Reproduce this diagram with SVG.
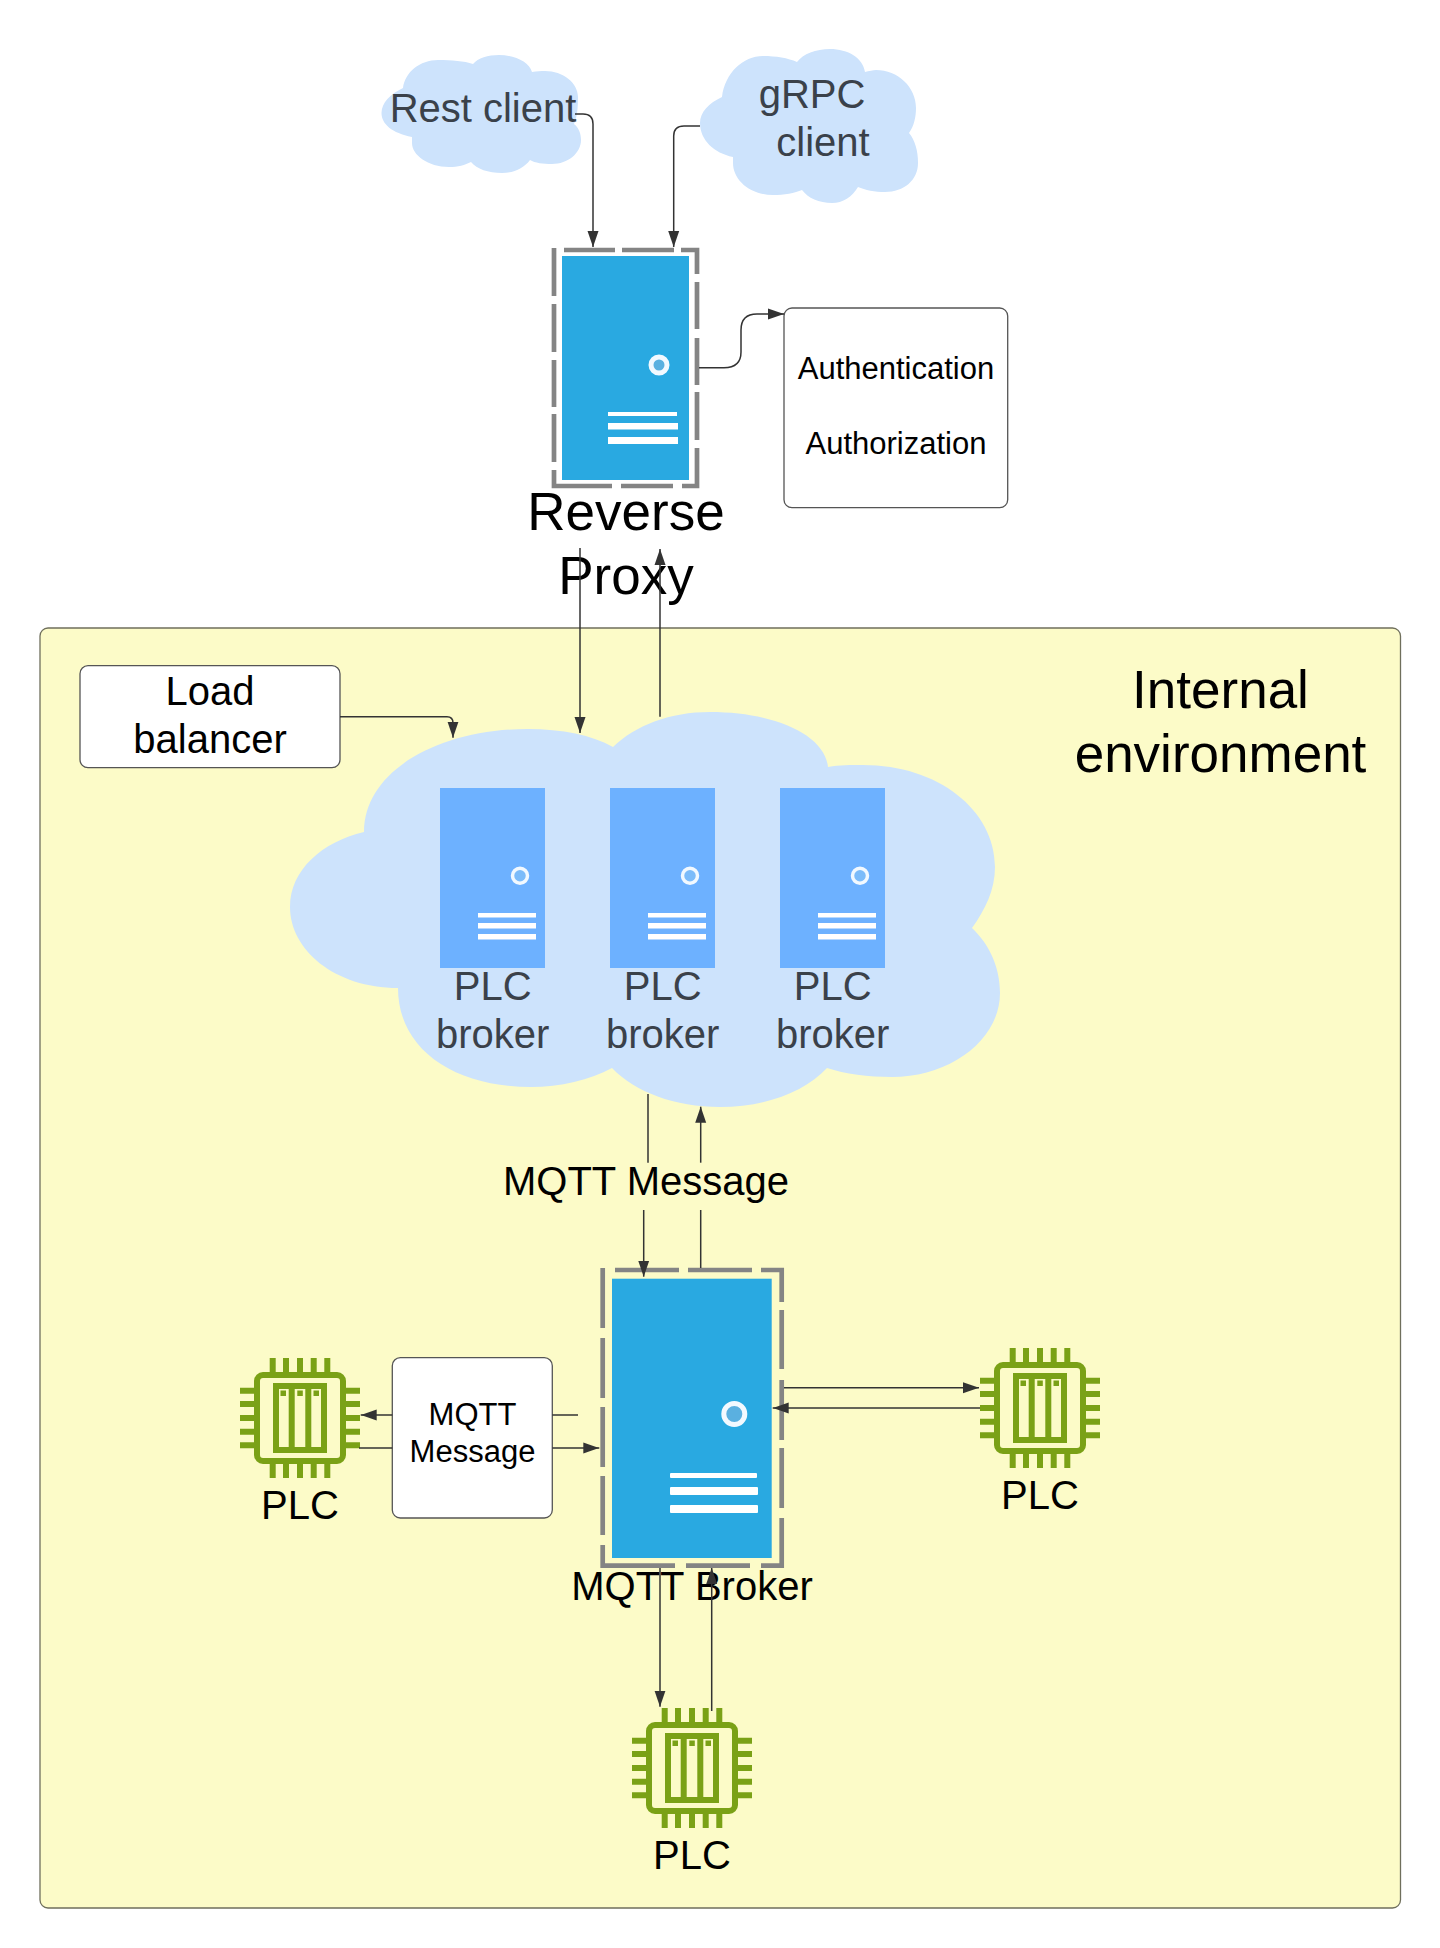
<svg xmlns="http://www.w3.org/2000/svg" xmlns:xlink="http://www.w3.org/1999/xlink" width="1440" height="1948" viewBox="0 0 1440 1948">
<style>
text{font-family:"Liberation Sans",Arial,sans-serif;text-anchor:middle;fill:#000}
.dk{fill:#3a414a}
.box{fill:#fff;stroke:#555;stroke-width:1.3}
.cloud{fill:#cde3fc}
.frame{fill:none;stroke:#848484;stroke-width:4.700}
.blue{fill:#29a9e1}
.lb{fill:#6db1ff}
.bar{fill:#fff}
.ring{fill:#5ab0e0;stroke:#f2f9ff;stroke-width:5}
.ring2{fill:#7cbcfa;stroke:#f2f9ff;stroke-width:3.500}
.con{fill:none;stroke:#333;stroke-width:1.500}
.arr{marker-end:url(#ah)}
.chip{fill:none;stroke:#7aa116;stroke-width:6}
</style>
<defs>
<marker id="ah" markerUnits="userSpaceOnUse" markerWidth="16" markerHeight="12" refX="16" refY="6" orient="auto"><path d="M0 0.500L16 6L0 11.500Z" fill="#333"/></marker>
<g id="chipicon">
<rect class="chip" x="-43" y="-43" width="86" height="86" rx="6"/>
<rect class="chip" x="-24" y="-32" width="48" height="64"/>
<path class="chip" d="M-8.300 -32V32M8.300 -32V32M-27.300 -60V-46M-14 -60V-46M0 -60V-46M13.700 -60V-46M27.300 -60V-46M-27.300 46V60M-14 46V60M0 46V60M13.700 46V60M27.300 46V60M-60 -27.300H-46M-60 -14H-46M-60 0H-46M-60 13.700H-46M-60 27.300H-46M46 -27.300H60M46 -14H60M46 0H60M46 13.700H60M46 27.300H60"/>
<path fill="#7aa116" d="M-19.500 -27.500h5.500v5.500h-5.500zM-2.700 -27.500h5.500v5.500h-5.500zM13.500 -27.500h5.500v5.500h-5.500z"/>
</g>
<g id="plcserver">
<rect class="lb" x="0" y="0" width="105" height="180"/>
<circle class="ring2" cx="80" cy="87.700" r="7.500"/>
<rect class="bar" x="38" y="125" width="58" height="4.500"/>
<rect class="bar" x="38" y="135" width="58" height="5.500"/>
<rect class="bar" x="38" y="146" width="58" height="5.500"/>
</g>
</defs>
<rect width="1440" height="1948" fill="#fff"/>

<g id="internal-environment">
<rect x="40" y="628" width="1360.500" height="1280" rx="8" fill="#fcfbc8" stroke="#6f6f5c" stroke-width="1.300"/>
<text x="1220.500" y="708" font-size="53">Internal</text>
<text x="1220.500" y="772" font-size="53">environment</text>
</g>

<g id="rest-client">
<path class="cloud" d="M412 137C392 133 381.500 124 381.500 113C381.500 103 390 94 403 88C405 72 420 60 438 60C452 60 464 61 473 64C478 58 488 55 499 55C515 55 529 62 532 72C537 71 541 71 545 71C563 71 578 83 578 97C578 108 577 118 574 124C579 128 581 134 581 140C581 153 568 164 552 164C543 164 535 163 530 160C524 168 514 173 502 173C488 173 477 169 471 162C465 165 458 167 449 167C428 167 412 155 412 143Z"/>
<text class="dk" x="483" y="122" font-size="40">Rest client</text>
</g>

<g id="grpc-client">
<path class="cloud" d="M733 157C714 153 700 140 700 123C700 112 709 103 722 97C725 73 743 56 763 56C776 56 788 58 797 62C803 54 816 49 830 49C848 49 863 58 865 72C869 71 873 70 876 70C898 70 916 87 916 108C916 117 914 126 909 133C915 140 918 151 918 163C918 180 904 192 885 192C875 192 865 190 858 187C852 197 843 203 832 203C819 203 808 198 802 190C795 193 784 195 773 195C750 195 733 180 733 163Z"/>
<text class="dk" x="812" y="108" font-size="40">gRPC</text>
<text class="dk" x="823" y="156" font-size="40">client</text>
</g>

<g id="reverse-proxy">
<path class="frame" d="M554 248V296M554 304V352M554 360V407M554 414V462M554 470V486H612M621 486H673M682 486H697V448M697 440V392M697 385V338M697 329V282M697 274V250H681M674 250H622M615 250H564"/>
<rect class="blue" x="562" y="256" width="127" height="224"/>
<circle class="ring" cx="659" cy="365" r="8"/>
<rect class="bar" x="608" y="412" width="69" height="4"/>
<rect class="bar" x="608" y="423" width="70" height="6.500"/>
<rect class="bar" x="608" y="437" width="70" height="7"/>
<text x="626" y="530" font-size="53">Reverse</text>
<text x="626" y="594" font-size="53">Proxy</text>
</g>

<g id="auth">
<rect class="box" x="784" y="308" width="223.700" height="199.700" rx="8"/>
<text x="896" y="379" font-size="31">Authentication</text>
<text x="896" y="454" font-size="31">Authorization</text>
</g>

<g id="load-balancer">
<rect class="box" x="80" y="665.700" width="260" height="102" rx="8"/>
<text x="210" y="705" font-size="40">Load</text>
<text x="210" y="753" font-size="40">balancer</text>
</g>

<g id="plc-broker-cloud">
<path class="cloud" d="M364 832C364 770 440 729 528 729C562 729 592 735 613 747C636 725 670 712 710 712C775 712 825 735 828 767C840 765 850 765 863 765C938 765 995 810 995 867C995 890 985 910 972 928C990 945 1000 968 1000 993C1000 1040 950 1077 892 1077C868 1077 845 1074 827 1068C805 1092 765 1107 720 1107C675 1107 635 1092 612 1068C590 1080 560 1087 531 1087C455 1087 398 1050 398 988C335 988 290 950 290 907C290 870 322 842 364 832Z"/>
</g>
<g id="plc-broker-1">
<use xlink:href="#plcserver" href="#plcserver" x="440" y="788"/>
<text class="dk" x="492.700" y="1000" font-size="40">PLC</text>
<text class="dk" x="492.700" y="1048" font-size="40">broker</text>
</g>
<g id="plc-broker-2">
<use xlink:href="#plcserver" href="#plcserver" x="610" y="788"/>
<text class="dk" x="662.700" y="1000" font-size="40">PLC</text>
<text class="dk" x="662.700" y="1048" font-size="40">broker</text>
</g>
<g id="plc-broker-3">
<use xlink:href="#plcserver" href="#plcserver" x="780" y="788"/>
<text class="dk" x="832.700" y="1000" font-size="40">PLC</text>
<text class="dk" x="832.700" y="1048" font-size="40">broker</text>
</g>

<g id="mqtt-message-label">
<text x="646" y="1195" font-size="40">MQTT Message</text>
</g>

<g id="mqtt-broker">
<path class="frame" d="M602.700 1268V1328M602.700 1338V1398M602.700 1407V1467M602.700 1476V1535M602.700 1545V1565.700H675M686 1565.700H750M761 1565.700H781.700V1518M781.700 1508V1448M781.700 1440V1380M781.700 1369V1310M781.700 1302V1270H761M752 1270H688M679 1270H615"/>
<rect class="blue" x="612" y="1278.700" width="159.700" height="279.300"/>
<circle class="ring" cx="734.300" cy="1414" r="10.500"/>
<rect class="bar" x="670" y="1473" width="87" height="5" rx="1"/>
<rect class="bar" x="670" y="1487" width="88" height="8" rx="1"/>
<rect class="bar" x="670" y="1505" width="88" height="8" rx="1"/>
<text x="692" y="1600" font-size="40">MQTT Broker</text>
</g>

<g id="mqtt-message-box">
<rect class="box" x="392.300" y="1357.700" width="160" height="160.300" rx="8"/>
<text x="472.500" y="1425" font-size="31">MQTT</text>
<text x="472.500" y="1462" font-size="31">Message</text>
</g>

<g id="plc-left">
<use xlink:href="#chipicon" href="#chipicon" transform="translate(300 1418)"/>
<text x="300" y="1519" font-size="40">PLC</text>
</g>
<g id="plc-right">
<use xlink:href="#chipicon" href="#chipicon" transform="translate(1040 1408)"/>
<text x="1040" y="1509" font-size="40">PLC</text>
</g>
<g id="plc-bottom">
<use xlink:href="#chipicon" href="#chipicon" transform="translate(692 1768)"/>
<text x="692" y="1869" font-size="40">PLC</text>
</g>

<g id="connectors">
<path class="con arr" d="M575 114H583Q593 114 593 124V247"/>
<path class="con arr" d="M700 126H684Q673.700 126 673.700 136V247"/>
<path class="con arr" d="M699 367.700H724Q741 367.700 741 352V330Q741 314 757 314H784"/>
<path class="con arr" d="M580 548V733"/>
<path class="con arr" d="M660 716.700V549"/>
<path class="con arr" d="M340 716.700H447Q453 716.700 453 723V737.700"/>
<path class="con" d="M648 1094V1162.700"/>
<path class="con arr" d="M643.700 1210V1276.700"/>
<path class="con" d="M700.700 1268V1210"/>
<path class="con arr" d="M700.700 1162.700V1106.700"/>
<path class="con" d="M578 1415H552.300"/>
<path class="con arr" d="M392.300 1415H360.700"/>
<path class="con" d="M359 1448H392.300"/>
<path class="con arr" d="M552.300 1448H599.300"/>
<path class="con arr" d="M784 1387.700H979"/>
<path class="con arr" d="M980 1408H772.700"/>
<path class="con arr" d="M660 1568V1706.700"/>
<path class="con arr" d="M711.700 1711V1568"/>
</g>
</svg>
